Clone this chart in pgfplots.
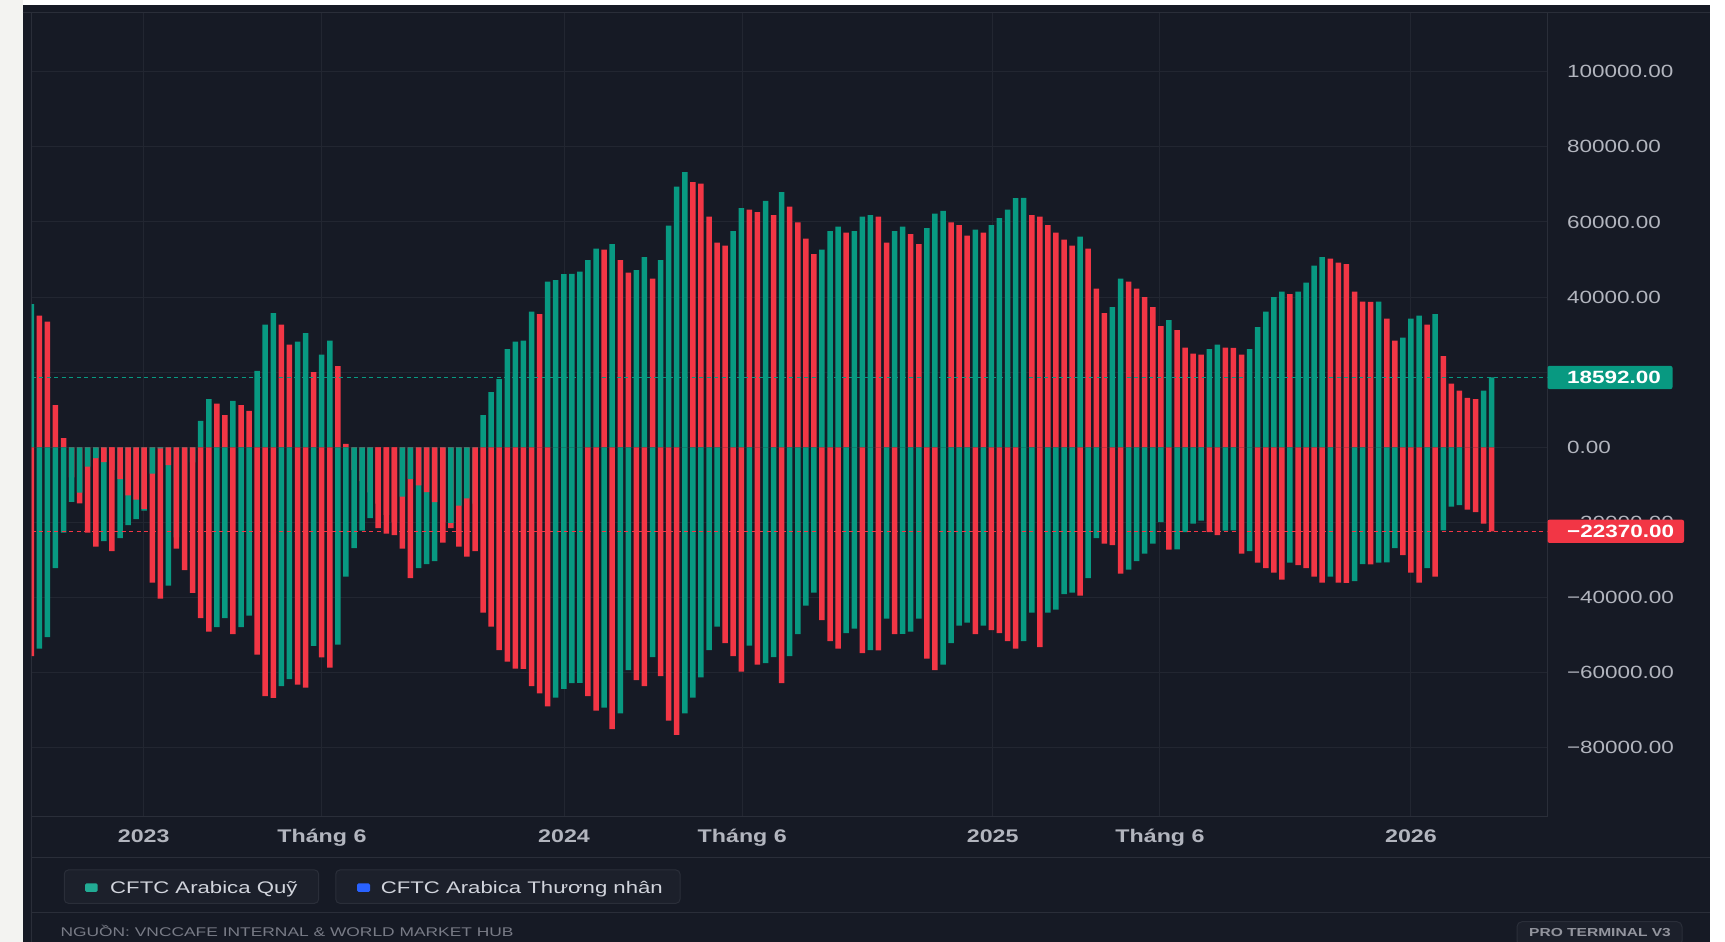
\documentclass[border=0pt]{standalone}
\usepackage{pgfplots}
\pgfplotsset{compat=1.18}
\usepackage{pgfplotstable}
\usepackage{fontspec}
\setmainfont{Liberation Sans}
\newfontfamily\tickf[FakeStretch=1.27]{Liberation Sans}
\newfontfamily\legf[FakeStretch=1.32]{Liberation Sans}
\newfontfamily\footf[FakeStretch=1.38]{Liberation Sans}
\newfontfamily\prof[FakeStretch=1.34]{Liberation Sans}

\definecolor{panel}{HTML}{161A25}
\definecolor{gridc}{HTML}{222631}
\definecolor{bordc}{HTML}{2A2E39}
\definecolor{tvg}{HTML}{089981}
\definecolor{tvr}{HTML}{F23645}
\definecolor{lbl}{HTML}{B2B5BE}
\definecolor{legtext}{HTML}{D1D4DC}
\definecolor{foot}{HTML}{787B86}
\definecolor{legbox}{HTML}{1C202B}
\definecolor{tvblue}{HTML}{2962FF}
\definecolor{legteal}{HTML}{22AB94}
\definecolor{outer}{HTML}{F3F3F1}

% i = week index, F = CFTC Arabica Quy (funds), T = CFTC Arabica Thuong nhan (traders)
% Fc/Tc: 1 = rose vs previous week (green), 0 = fell (red)
\pgfplotstableread{
i F Fc T Tc
0 38100 1 -55570 0
1 35040 0 -53590 1
2 33460 0 -50530 1
3 11250 0 -32180 1
4 2470 0 -22700 1
5 -8000 0 -14510 1
6 -14900 0 -12040 1
7 -22700 0 -5130 1
8 -26450 0 -2860 1
9 -24970 1 -3950 0
10 -27640 0 -6000 0
11 -24180 1 -8490 0
12 -20730 1 -12830 0
13 -19150 1 -13920 0
14 -16880 1 -16380 0
15 -36030 0 -7010 1
16 -40270 0 -300 1
17 -36820 1 -4740 0
18 -24000 1 -26950 0
19 -14000 1 -32670 0
20 -4000 1 -38790 0
21 7010 1 -45500 0
22 12830 1 -49050 0
23 11650 0 -47870 1
24 8590 0 -45500 1
25 12340 1 -49750 0
26 11250 0 -47870 1
27 9670 0 -44810 1
28 20330 1 -55170 0
29 32670 1 -66230 0
30 35730 1 -66720 0
31 32670 0 -63560 1
32 27340 0 -61690 1
33 28130 1 -63170 0
34 30400 1 -63960 0
35 20040 0 -52900 1
36 24680 1 -55960 0
37 28430 1 -58630 0
38 21620 0 -52510 1
39 890 0 -34450 1
40 -6000 0 -26850 1
41 -9000 0 -22210 1
42 -12000 0 -18850 1
43 -15000 0 -21520 0
44 -18000 0 -23000 0
45 -20000 0 -23390 0
46 -26950 0 -13130 1
47 -34840 0 -8490 1
48 -32180 1 -10170 0
49 -31090 1 -11940 0
50 -30300 1 -14610 0
51 -20000 1 -25370 0
52 -21520 0 -20140 1
53 -26450 0 -15500 1
54 -29120 0 -13620 1
55 -15000 1 -27640 0
56 8590 1 -44020 0
57 14710 1 -47770 0
58 18160 1 -53990 0
59 26160 1 -57050 0
60 28130 1 -58920 0
61 28430 1 -59000 0
62 36120 1 -63560 0
63 35430 0 -65540 0
64 44120 1 -68990 0
65 44510 1 -66620 1
66 46090 1 -64350 1
67 46150 1 -62770 1
68 46780 1 -62700 1
69 49840 1 -66230 0
70 52900 1 -70080 0
71 52610 0 -69290 1
72 54090 1 -75010 0
73 49840 0 -70870 1
74 46490 0 -59320 1
75 47180 1 -61980 0
76 50630 1 -63560 0
77 44910 0 -55860 1
78 49840 1 -60900 0
79 59020 1 -72740 0
80 69390 1 -76590 0
81 73240 1 -70870 1
82 70570 0 -66620 1
83 70180 0 -61290 1
84 61390 0 -53990 1
85 54480 0 -47770 1
86 53690 0 -52110 0
87 57540 1 -55570 0
88 63660 1 -59710 0
89 63270 0 -52810 1
90 62580 0 -57840 0
91 65640 1 -57440 1
92 61790 0 -55860 1
93 67910 1 -62770 0
94 64060 0 -55570 1
95 59910 0 -49750 1
96 55570 0 -42150 1
97 51420 0 -38690 1
98 52610 1 -45990 0
99 57540 1 -51620 0
100 58730 1 -53590 0
101 57150 0 -49450 1
102 57540 1 -48260 1
103 61390 1 -54780 0
104 61790 1 -53990 1
105 61390 0 -54100 0
106 54480 0 -45600 1
107 57540 1 -49750 0
108 58730 1 -49700 1
109 56750 0 -49050 1
110 54090 0 -45600 1
111 58330 1 -56260 0
112 62180 1 -59320 0
113 62970 1 -57840 1
114 59910 0 -52110 1
115 59120 0 -47480 1
116 56360 0 -46690 1
117 57940 1 -49750 0
118 57150 0 -47480 1
119 59120 1 -48660 0
120 61000 1 -49450 0
121 63270 1 -51620 0
122 66330 1 -53590 0
123 66400 1 -51620 1
124 61790 0 -44020 1
125 61390 0 -53200 0
126 59120 0 -44020 1
127 57150 0 -43230 1
128 55270 0 -39090 1
129 53690 0 -38690 1
130 56060 1 -39480 0
131 52900 0 -34840 1
132 42240 0 -24180 1
133 35730 0 -25660 0
134 37310 1 -26060 0
135 44910 1 -33660 0
136 44120 0 -32570 1
137 42240 0 -30300 1
138 39970 0 -28330 1
139 37310 0 -25660 1
140 32280 0 -19940 1
141 33850 1 -27240 0
142 31190 0 -27200 1
143 26550 0 -22600 1
144 24970 0 -20330 1
145 24680 0 -19540 1
146 26160 1 -22600 0
147 27340 1 -23390 0
148 26550 0 -22210 1
149 26450 0 -22150 1
150 24680 0 -28330 0
151 26160 1 -27640 1
152 31980 1 -30700 0
153 36120 1 -32180 0
154 39970 1 -33360 0
155 41450 1 -35240 0
156 40760 0 -30700 1
157 41450 1 -31390 0
158 43820 1 -32180 0
159 48360 1 -34450 0
160 50630 1 -36030 0
161 50240 0 -34450 1
162 49150 0 -36030 0
163 48760 0 -36100 0
164 41450 0 -35630 1
165 38790 0 -31090 1
166 38700 0 -31150 0
167 38750 1 -30700 1
168 34250 0 -30650 1
169 28430 0 -26850 1
170 29220 1 -28720 0
171 34250 1 -33360 0
172 35040 1 -36030 0
173 32670 0 -32180 1
174 35430 1 -34450 0
175 24280 0 -22110 1
176 16980 0 -15790 1
177 15100 0 -15400 1
178 13130 0 -16580 0
179 12830 0 -17270 0
180 15100 1 -20330 0
181 18592 1 -22370 0
}\cot

\pgfplotsset{
  tvbar/.style={ybar, bar width=5.5pt, bar shift=0pt, draw=none},
}

\begin{document}
\begin{tikzpicture}[x=1pt,y=1pt]
\useasboundingbox (0,0) rectangle (1725,942);
% outer page and dark panel
\fill[white] (0,0) rectangle (1725,942);
\fill[outer] (0,0) rectangle (22.5,942);
\fill[panel] (22.5,0) rectangle (1710,937);
% frame lines
\draw[bordc, line width=1pt] (22.5,929.3) -- (1710,929.3);
\draw[bordc, line width=1pt] (31.5,0) -- (31.5,929.3);
\draw[bordc, line width=1pt] (31.5,84) -- (1710,84);
\draw[bordc, line width=1pt] (31.5,29.3) -- (1710,29.3);

\begin{axis}[
  at={(31.5pt,125.3pt)}, anchor=south west,
  scale only axis, width=1516pt, height=804pt,
  xmin=0.03, xmax=187.92, ymin=-98350, ymax=115710,
  axis line style={bordc, line width=1pt},
  grid=major, major grid style={gridc, line width=1pt},
  major tick length=0pt, tick style={draw=none},
  xtick={13.94,36.03,66.03,88.12,119.16,139.89,171.0},
  xticklabels={2023,Tháng 6,2024,Tháng 6,2025,Tháng 6,2026},
  xtick pos=bottom,
  xticklabel style={font=\tickf\bfseries\fontsize{18.3}{20}\selectfont, text=lbl, anchor=base, inner sep=0pt, yshift=-26pt},
  ytick={-80000,-60000,-40000,-20000,0,20000,40000,60000,80000,100000},
  yticklabels={−80000.00,−60000.00,−40000.00,−20000.00,0.00,{},40000.00,60000.00,80000.00,100000.00},
  ytick pos=right, yticklabel pos=right,
  yticklabel style={font=\tickf\fontsize{17.7}{20}\selectfont, text=lbl, anchor=west, inner sep=0pt, xshift=19.3pt},
  scaled y ticks=false,
  clip=true,
]
\addplot[tvbar, fill=tvg, restrict expr to domain={\thisrow{Fc}}{0.5:1.5}] table[x=i, y=F] {\cot};
\addplot[tvbar, fill=tvr, restrict expr to domain={\thisrow{Fc}}{-0.5:0.5}] table[x=i, y=F] {\cot};
\addplot[tvbar, fill=tvg, restrict expr to domain={\thisrow{Tc}}{0.5:1.5}] table[x=i, y=T] {\cot};
\addplot[tvbar, fill=tvr, restrict expr to domain={\thisrow{Tc}}{-0.5:0.5}] table[x=i, y=T] {\cot};
\addplot[tvg, line width=1.2pt, dash pattern=on 4pt off 3.5pt] coordinates {(0.03,18592) (187.92,18592)};
\addplot[tvr, line width=1.2pt, dash pattern=on 4pt off 3.5pt] coordinates {(0.03,-22370) (187.92,-22370)};
\coordinate (gl) at (axis cs:187.92,18592);
\coordinate (rl) at (axis cs:187.92,-22370);
\end{axis}

% last-value labels
\fill[tvg, rounded corners=2pt] ([yshift=-11.6pt]gl) rectangle ([xshift=125pt,yshift=11.6pt]gl);
\node[anchor=west, inner sep=0pt, text=white, font=\tickf\bfseries\fontsize{17.7}{20}\selectfont] at ([xshift=19.5pt]gl) {18592.00};
\fill[tvr, rounded corners=2pt] ([yshift=-11.6pt]rl) rectangle ([xshift=136.5pt,yshift=11.6pt]rl);
\node[anchor=west, inner sep=0pt, text=white, font=\tickf\bfseries\fontsize{17.7}{20}\selectfont] at ([xshift=19.5pt]rl) {−22370.00};

% legend
\draw[bordc, fill=legbox, rounded corners=4pt, line width=1pt] (64.3,38.7) rectangle (318.6,72);
\fill[legteal, rounded corners=1.5pt] (85,50) rectangle (97.6,58.7);
\node[anchor=base west, inner sep=0pt, text=legtext, font=\legf\fontsize{16.8}{18}\selectfont] at (110,48.7) {CFTC Arabica Quỹ};
\draw[bordc, fill=legbox, rounded corners=4pt, line width=1pt] (335.8,38.7) rectangle (680,72);
\fill[tvblue, rounded corners=1.5pt] (357,50) rectangle (370,58.7);
\node[anchor=base west, inner sep=0pt, text=legtext, font=\legf\fontsize{16.8}{18}\selectfont] at (380.6,48.7) {CFTC Arabica Thương nhân};

% footer
\node[anchor=base west, inner sep=0pt, text=foot, font=\footf\fontsize{12.6}{14}\selectfont] at (60.3,5.3) {NGUỒN: VNCCAFE INTERNAL \& WORLD MARKET HUB};
\draw[bordc, fill=legbox, rounded corners=5pt, line width=1pt] (1517,-4) rectangle (1682,20.3);
\node[anchor=base west, inner sep=0pt, text=foot!80!white, font=\prof\bfseries\fontsize{11.6}{13}\selectfont] at (1529,5.3) {PRO TERMINAL V3};
\end{tikzpicture}
\end{document}
